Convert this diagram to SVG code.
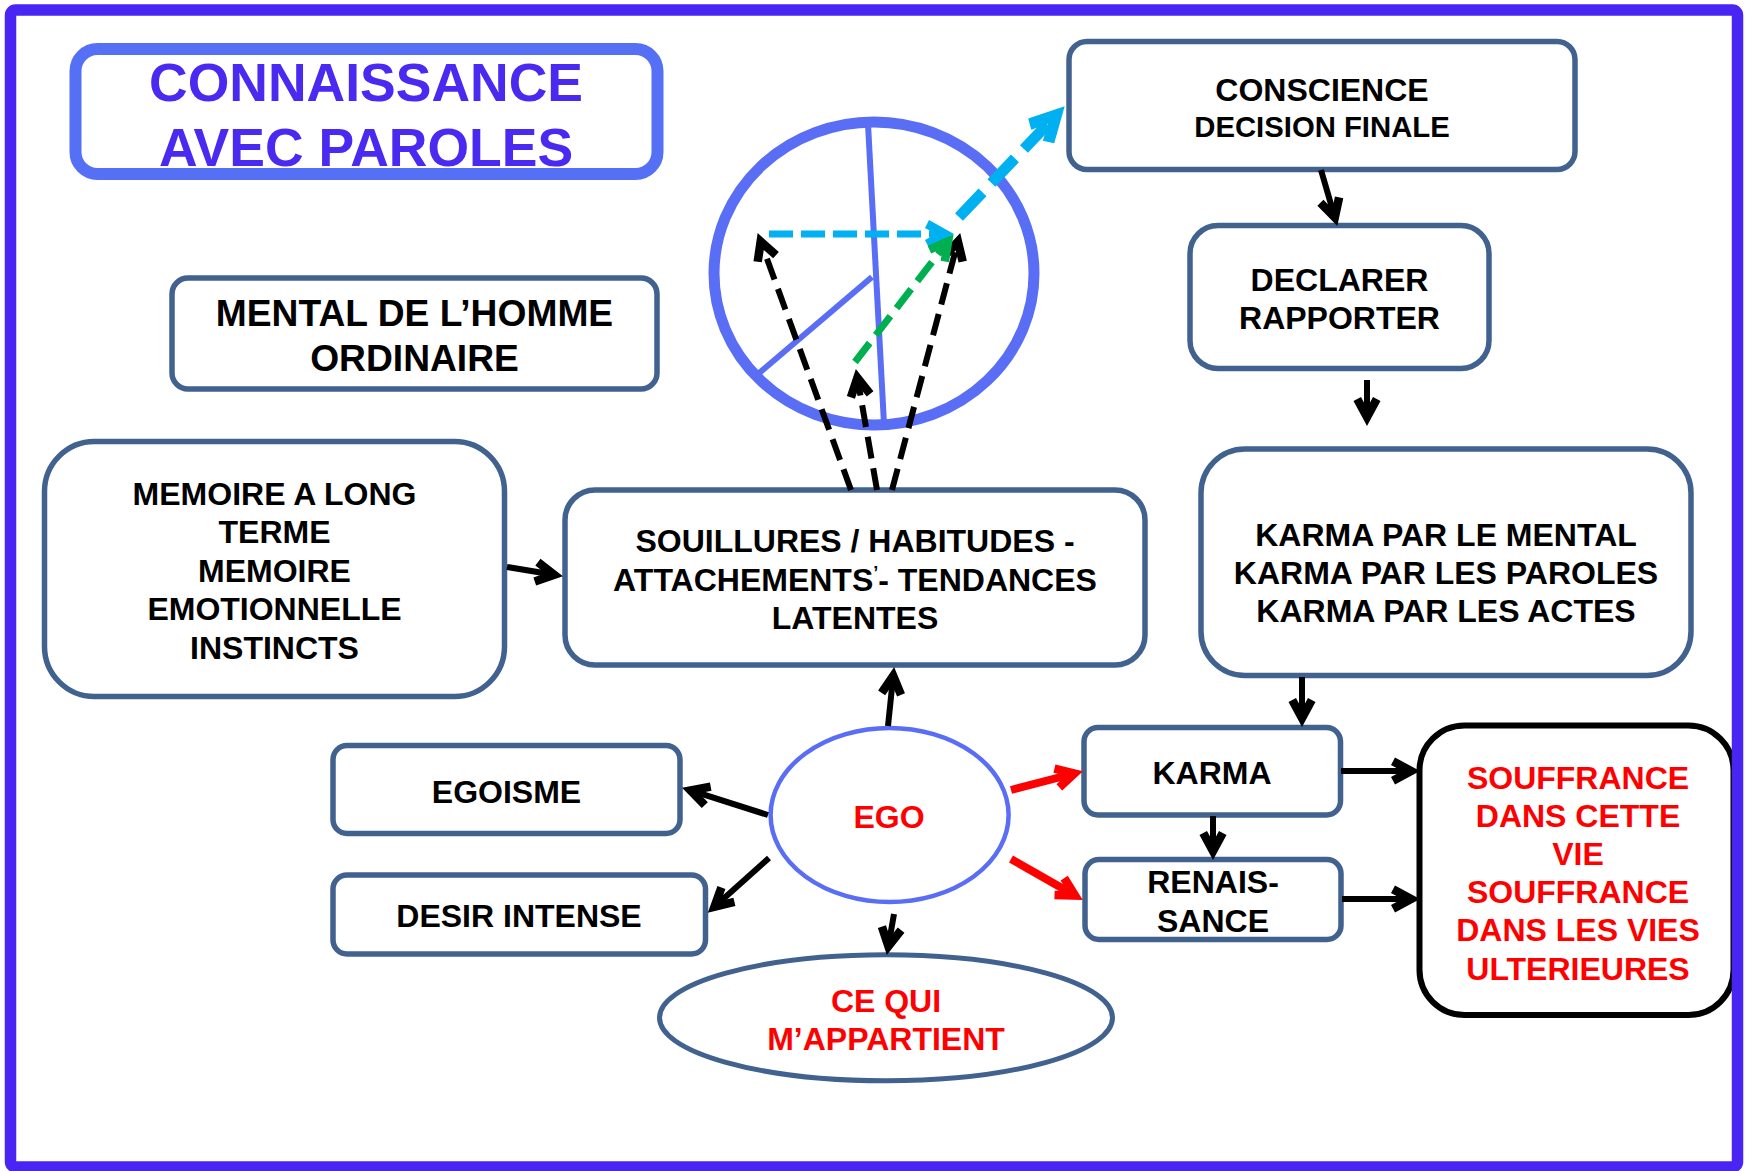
<svg xmlns="http://www.w3.org/2000/svg" width="1752" height="1171" viewBox="0 0 1752 1171">
<style>
text { font-family: "Liberation Sans", Arial, Helvetica, sans-serif; font-weight: bold; text-anchor: middle; }
.t { font-size: 32px; fill: #000000; }
.r { font-size: 32px; fill: #FF0000; }
.title { font-size: 53.5px; fill: #4A2AF0; }
.box { fill: #FFFFFF; stroke: #41628F; stroke-width: 5.5; }
.ring { fill: none; stroke: #5A6EF5; }
.ln { fill: none; stroke: #000000; stroke-width: 6; marker-end: url(#ab); }
.lnr { fill: none; stroke: #FF0000; stroke-width: 8; marker-end: url(#ar); }
.dk { fill: none; stroke: #000000; stroke-width: 6; stroke-dasharray: 22 10; marker-end: url(#ab); }
</style>
<defs>
<marker id="ab" markerUnits="userSpaceOnUse" orient="auto" overflow="visible" refX="0" refY="0" markerWidth="1" markerHeight="1">
<path d="M9,0 L-16,-13.5 L-20,-6 L-9,0 L-20,6 L-16,13.5 Z" fill="#000000"/>
</marker>
<marker id="ar" markerUnits="userSpaceOnUse" orient="auto" overflow="visible" refX="0" refY="0" markerWidth="1" markerHeight="1">
<path d="M9,0 L-16,-13.5 L-20,-6 L-9,0 L-20,6 L-16,13.5 Z" fill="#FF0000"/>
</marker>
<marker id="ac" markerUnits="userSpaceOnUse" orient="auto" overflow="visible" refX="0" refY="0" markerWidth="1" markerHeight="1">
<path d="M9,0 L-16,-14 L-20,-6 L-9,0 L-20,6 L-16,14 Z" fill="#00B0F0"/>
</marker>
<marker id="acb" markerUnits="userSpaceOnUse" orient="auto" overflow="visible" refX="0" refY="0" markerWidth="1" markerHeight="1">
<path d="M12,0 L-22,-18 L-28,-8 L-12,0 L-28,8 L-22,18 Z" fill="#00B0F0"/>
</marker>
<marker id="ag" markerUnits="userSpaceOnUse" orient="auto" overflow="visible" refX="0" refY="0" markerWidth="1" markerHeight="1">
<path d="M9,0 L-16,-13.5 L-20,-6 L-9,0 L-20,6 L-16,13.5 Z" fill="#00B050"/>
</marker>
</defs>

<rect x="0" y="0" width="1752" height="1171" fill="#FFFFFF"/>

<g id="title">
<rect x="75.5" y="49" width="582" height="125" rx="22" fill="#FFFFFF" stroke="#5570F5" stroke-width="12"/>
<text class="title" x="366" y="101">CONNAISSANCE</text>
<text class="title" x="366" y="166">AVEC PAROLES</text>
</g>

<g id="mental">
<rect class="box" x="172" y="278" width="485" height="111" rx="16"/>
<text class="t" style="font-size:37.2px" x="414.5" y="326">MENTAL DE L’HOMME</text>
<text class="t" style="font-size:37.2px" x="414.5" y="371">ORDINAIRE</text>
</g>

<g id="mind-circle">
<ellipse class="ring" cx="874" cy="273.5" rx="160" ry="151.5" stroke-width="11"/>
<line x1="868" y1="124" x2="884" y2="424" stroke="#5A6EF5" stroke-width="6"/>
<line x1="872" y1="277" x2="758" y2="374" stroke="#5A6EF5" stroke-width="6"/>
</g>

<g id="conscience">
<rect class="box" x="1069" y="41.5" width="506" height="128" rx="18"/>
<text class="t" x="1322" y="101">CONSCIENCE</text>
<text class="t" style="font-size:29.3px" x="1322" y="137">DECISION FINALE</text>
</g>

<g id="declarer">
<rect class="box" x="1190" y="225.5" width="299" height="143" rx="28"/>
<text class="t" x="1339.5" y="291">DECLARER</text>
<text class="t" x="1339.5" y="329">RAPPORTER</text>
</g>

<g id="karma-types">
<rect class="box" x="1201" y="449" width="490" height="226.5" rx="44"/>
<text class="t" x="1446" y="546">KARMA PAR LE MENTAL</text>
<text class="t" x="1446" y="584">KARMA PAR LES PAROLES</text>
<text class="t" x="1446" y="622">KARMA PAR LES ACTES</text>
</g>

<g id="memoire">
<rect class="box" x="44.5" y="441.5" width="460" height="255" rx="50"/>
<text class="t" x="274.5" y="505">MEMOIRE A LONG</text>
<text class="t" x="274.5" y="543">TERME</text>
<text class="t" x="274.5" y="582">MEMOIRE</text>
<text class="t" x="274.5" y="620">EMOTIONNELLE</text>
<text class="t" x="274.5" y="659">INSTINCTS</text>
</g>

<g id="souillures">
<rect class="box" x="565" y="490" width="580" height="175" rx="30" stroke-width="9"/>
<text class="t" x="855" y="552">SOUILLURES / HABITUDES -</text>
<text class="t" x="855" y="591">ATTACHEMENTS<tspan style="font-size:18px" dy="-12">’</tspan><tspan dy="12">- TENDANCES</tspan></text>
<text class="t" x="855" y="629">LATENTES</text>
</g>

<g id="egoisme">
<rect class="box" x="333" y="745.5" width="347" height="88" rx="14"/>
<text class="t" x="506.5" y="803">EGOISME</text>
</g>

<g id="desir">
<rect class="box" x="333" y="875" width="372.5" height="79" rx="14"/>
<text class="t" x="519" y="927">DESIR INTENSE</text>
</g>

<g id="ego">
<ellipse cx="889.6" cy="815" rx="119" ry="87" fill="#FFFFFF" stroke="#5A6EF5" stroke-width="4.5"/>
<text class="r" x="889" y="828">EGO</text>
</g>

<g id="ce-qui">
<ellipse cx="886" cy="1017.75" rx="226.5" ry="63" fill="#FFFFFF" stroke="#41628F" stroke-width="5"/>
<text class="r" x="886" y="1012">CE QUI</text>
<text class="r" x="886" y="1050">M’APPARTIENT</text>
</g>

<g id="karma">
<rect class="box" x="1084" y="727.5" width="256.5" height="87.5" rx="14"/>
<text class="t" x="1212" y="784">KARMA</text>
</g>

<g id="renaissance">
<rect class="box" x="1085" y="859.5" width="256" height="80" rx="14"/>
<text class="t" x="1213" y="893">RENAIS-</text>
<text class="t" x="1213" y="932">SANCE</text>
</g>

<g id="souffrance">
<rect x="1419.5" y="725.5" width="314" height="289.5" rx="45" fill="#FFFFFF" stroke="#000000" stroke-width="6"/>
<text class="r" x="1578" y="789">SOUFFRANCE</text>
<text class="r" x="1578" y="827">DANS CETTE</text>
<text class="r" x="1578" y="865">VIE</text>
<text class="r" x="1578" y="903">SOUFFRANCE</text>
<text class="r" x="1578" y="941">DANS LES VIES</text>
<text class="r" x="1578" y="980">ULTERIEURES</text>
</g>

<g id="connectors">
<line class="ln" x1="507" y1="567" x2="554.1" y2="574.7" stroke-width="8"/>
<line class="ln" x1="1321" y1="170" x2="1334.8" y2="217.3"/>
<line class="ln" x1="1367" y1="380" x2="1367" y2="417"/>
<line class="ln" x1="1302" y1="677" x2="1302" y2="718"/>
<line class="ln" x1="1213" y1="816" x2="1213" y2="851"/>
<line class="ln" x1="1341" y1="771" x2="1411" y2="771" stroke-width="8"/>
<line class="ln" x1="1342" y1="899" x2="1411" y2="899" stroke-width="8"/>
<line class="ln" x1="888" y1="726" x2="893.2" y2="676" stroke-width="5"/>
<line class="ln" x1="768" y1="815" x2="690.6" y2="790.4"/>
<line class="ln" x1="769" y1="858" x2="714.5" y2="906.7"/>
<line class="ln" x1="894" y1="914" x2="888.4" y2="946.1"/>
<line class="lnr" x1="1011" y1="790" x2="1074.3" y2="773.5"/>
<line class="lnr" x1="1011" y1="859" x2="1075" y2="895.5"/>
<line class="dk" x1="851" y1="490" x2="760.7" y2="241.5"/>
<line class="dk" x1="877" y1="490" x2="857.4" y2="377.9"/>
<line class="dk" x1="892" y1="490" x2="957.9" y2="241.7"/>
<line x1="769" y1="234" x2="945" y2="234" fill="none" stroke="#00B0F0" stroke-width="7" stroke-dasharray="24 8" marker-end="url(#ac)"/>
<line x1="855" y1="362" x2="948.1" y2="241.3" fill="none" stroke="#00B050" stroke-width="7" stroke-dasharray="24 10" marker-end="url(#ag)"/>
<line x1="959" y1="217" x2="1056.4" y2="115" fill="none" stroke="#00B0F0" stroke-width="11" stroke-dasharray="34 13" marker-end="url(#acb)"/>
</g>

<rect id="frame" x="10.5" y="10" width="1727" height="1157" rx="5" fill="none" stroke="#4825F3" stroke-width="11.5"/>
</svg>
